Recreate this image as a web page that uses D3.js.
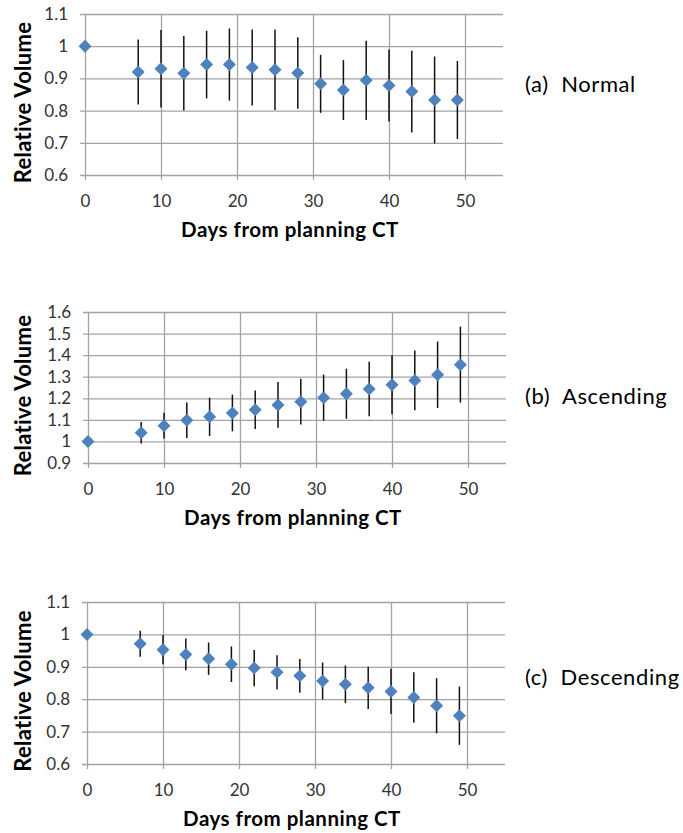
<!DOCTYPE html>
<html>
<head>
<meta charset="utf-8">
<script src="https://cdn.jsdelivr.net/npm/d3@7"></script>
<style>
  body { margin: 0; background: #fff; }
  text { font-family: Lato, "Open Sans", sans-serif; }
</style>
</head>
<body>
<svg id="chart"></svg>
<script>
// days of each scan, shared by all three panels
const days = [0, 7, 10, 13, 16, 19, 22, 25, 28, 31, 34, 37, 40, 43, 46, 49]

// (a) normal
const normalMean = [1.0, 0.920, 0.930, 0.916, 0.943, 0.943, 0.934, 0.927, 0.917, 0.883, 0.864, 0.894, 0.878, 0.859, 0.833, 0.833]
const normalErr  = [0, 0.101, 0.120, 0.116, 0.105, 0.112, 0.118, 0.125, 0.111, 0.090, 0.093, 0.123, 0.112, 0.127, 0.135, 0.121]

// (b) ascending
const ascMean = [1.0, 1.040, 1.073, 1.098, 1.114, 1.132, 1.147, 1.169, 1.184, 1.203, 1.221, 1.243, 1.263, 1.283, 1.309, 1.356]
const ascErr  = [0, 0.050, 0.060, 0.082, 0.089, 0.085, 0.089, 0.106, 0.106, 0.107, 0.116, 0.126, 0.137, 0.139, 0.154, 0.176]

// (c) descending
const descMean = [1.0, 0.971, 0.953, 0.938, 0.925, 0.908, 0.896, 0.883, 0.872, 0.856, 0.846, 0.835, 0.824, 0.805, 0.780, 0.749]
const descErr  = [0, 0.040, 0.045, 0.049, 0.050, 0.055, 0.056, 0.053, 0.052, 0.057, 0.058, 0.065, 0.070, 0.078, 0.085, 0.090]

const xTicks = [0, 10, 20, 30, 40, 50]
const yTicksA = [0.6, 0.7, 0.8, 0.9, 1, 1.1]
const yTicksB = [0.9, 1, 1.1, 1.2, 1.3, 1.4, 1.5, 1.6]
const yTicksC = [0.6, 0.7, 0.8, 0.9, 1, 1.1]

const panelLabels = ["(a)  Normal", "(b)  Ascending", "(c)  Descending"]

const width = 683
const height = 833

let svg = d3.select("#chart")
    .attr("width", width)
    .attr("height", height)

// layout of each panel (plot box in page pixels)
let panels = [
    { mean: normalMean, err: normalErr, ticks: yTicksA, label: panelLabels[0], left: 85, top: 14, w: 418, h: 161, labelY: 78 },
    { mean: ascMean, err: ascErr, ticks: yTicksB, label: panelLabels[1], left: 88, top: 312, w: 418, h: 151, labelY: 92 },
    { mean: descMean, err: descErr, ticks: yTicksC, label: panelLabels[2], left: 87, top: 602, w: 418, h: 162, labelY: 83 }
]

panels.forEach(drawPanel)

function drawPanel(p) {
    let g = svg.append("g")
        .attr("transform", `translate(${p.left}, ${p.top})`)

    let xScale = d3.scaleLinear()
        .domain([0, 55])
        .range([0, p.w])

    let yScale = d3.scaleLinear()
        .domain([p.ticks[0], p.ticks[p.ticks.length - 1]])
        .range([p.h, 0])

    // horizontal gridlines + y labels (gridlines poke out 5px to the left like excel ticks)
    let yAxis = g.append("g")
        .attr("transform", "translate(-5, 0)")
        .call(d3.axisLeft(yScale).tickValues(p.ticks).tickSize(-(p.w + 5)).tickPadding(12).tickFormat(d => String(d)))
    yAxis.select(".domain").remove()

    // vertical gridlines + x labels
    let xAxis = g.append("g")
        .attr("transform", `translate(0, ${p.h + 5})`)
        .call(d3.axisBottom(xScale).tickValues(xTicks).tickSize(-(p.h + 5)).tickPadding(15))
    xAxis.select(".domain").remove()

    g.selectAll(".tick line")
        .attr("stroke", "#a3a3a3")
        .attr("stroke-width", 1.3)
    g.selectAll(".tick text")
        .attr("fill", "#333")
        .style("font-size", "17px")
        .style("font-family", "Lato, sans-serif")

    let pts = days.map((d, i) => ({ day: d, mean: p.mean[i], err: p.err[i] }))

    // error bars
    g.selectAll("line.err")
        .data(pts.filter(d => d.err > 0))
        .enter()
        .append("line")
        .attr("class", "err")
        .attr("x1", d => xScale(d.day))
        .attr("x2", d => xScale(d.day))
        .attr("y1", d => yScale(d.mean + d.err))
        .attr("y2", d => yScale(d.mean - d.err))
        .attr("stroke", "#111")
        .attr("stroke-width", 1.5)

    // diamond markers
    let r = 6.5
    g.selectAll("path.pt")
        .data(pts)
        .enter()
        .append("path")
        .attr("class", "pt")
        .attr("d", `M0,${-r}L${r},0L0,${r}L${-r},0Z`)
        .attr("transform", d => `translate(${xScale(d.day)}, ${yScale(d.mean)})`)
        .attr("fill", "#4f81bd")

    // axis titles
    g.append("text")
        .text("Days from planning CT")
        .attr("x", xScale(27.5) - 4)
        .attr("y", p.h + 62)
        .attr("text-anchor", "middle")
        .style("font-weight", "bold")
        .style("font-size", "20.5px")
        .style("letter-spacing", "0.5px")
        .attr("fill", "#000")

    g.append("text")
        .text("Relative Volume")
        .attr("transform", `translate(${-p.left + 31}, ${p.h / 2 + 8}) rotate(-90)`)
        .attr("text-anchor", "middle")
        .style("font-weight", "bold")
        .style("font-size", "22px")
        .style("letter-spacing", "0.3px")
        .attr("fill", "#000")

    // panel label on the right
    g.append("text")
        .text(p.label)
        .attr("x", 525 - p.left)
        .attr("y", p.labelY)
        .style("white-space", "pre")
        .style("font-size", "22px")
        .style("letter-spacing", "0.6px")
        .attr("fill", "#000")
}
</script>
</body>
</html>
